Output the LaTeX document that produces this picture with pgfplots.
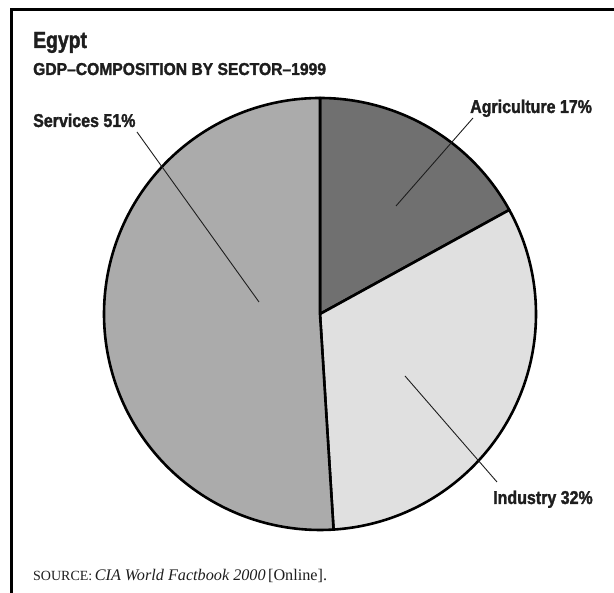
\documentclass[border=0pt]{standalone}
\usepackage{pgfplots}
\pgfplotsset{compat=1.18}
\usepackage{graphicx}
\usepackage{fontspec}
\setmainfont{Liberation Serif}
\newfontfamily\lab[FakeStretch=0.86, FakeBold=1.6]{Liberation Sans Bold}
\definecolor{agri}{HTML}{707070}
\definecolor{indu}{HTML}{E0E0E0}
\definecolor{serv}{HTML}{ABABAB}
\definecolor{ink}{HTML}{1E1E1E}
\begin{document}
\begin{tikzpicture}[x=1pt,y=1pt]
\useasboundingbox (0,0) rectangle (614,593);
% frame
\draw[line width=3pt] (11,0) -- (11,583) -- (614,583);
% pie
\begin{axis}[at={(320pt,279pt)}, anchor=origin, x=216pt, y=216pt,
  hide axis, xmin=-1, xmax=1, ymin=-1, ymax=1, clip=false,
  data cs=polar]
% Agriculture 17%, Industry 32%, Services 51% (clockwise from 12 o'clock)
\addplot[fill=agri, draw=black, line width=2.6pt, line join=round, domain={90-3.6*17}:90, samples=90] (x,1) -- (axis cs:0,0) -- cycle;
\addplot[fill=indu, draw=black, line width=2.6pt, line join=round, domain={90-3.6*(17+32)}:{90-3.6*17}, samples=120] (x,1) -- (axis cs:0,0) -- cycle;
\addplot[fill=serv, draw=black, line width=2.6pt, line join=round, domain=90:{450-3.6*(17+32)}, samples=150] (x,1) -- (axis cs:0,0) -- cycle;
\end{axis}
% leader lines
\draw[line width=0.9pt, ink] (473,475) -- (396,387);
\draw[line width=0.9pt, ink] (405,217) -- (497,111);
\draw[line width=0.9pt, ink] (137,461) -- (259,291);
% texts
\node[anchor=base west, inner sep=0, ink] at (33,545) {\scalebox{0.965}[1]{\lab\fontsize{23.3}{28}\selectfont Egypt}};
\node[anchor=base west, inner sep=0, ink] at (33,518) {\scalebox{1.058}[1]{\lab\fontsize{17.2}{20}\selectfont GDP\textendash COMPOSITION BY SECTOR\textendash 1999}};
\node[anchor=base west, inner sep=0, ink] at (470,480) {\lab\fontsize{18.6}{22}\selectfont Agriculture 17\%};
\node[anchor=base west, inner sep=0, ink] at (33,466) {\lab\fontsize{18.6}{22}\selectfont Services 51\%};
\node[anchor=base west, inner sep=0, ink] at (493,89) {\lab\fontsize{18.6}{22}\selectfont Industry 32\%};
\node[anchor=base west, inner sep=0, ink] at (33,12) {{\fontsize{14}{16}\selectfont SOURCE:} {\fontsize{16.2}{18}\selectfont\itshape CIA World Factbook 2000} {\fontsize{16.2}{18}\selectfont [Online].}};
\end{tikzpicture}
\end{document}
